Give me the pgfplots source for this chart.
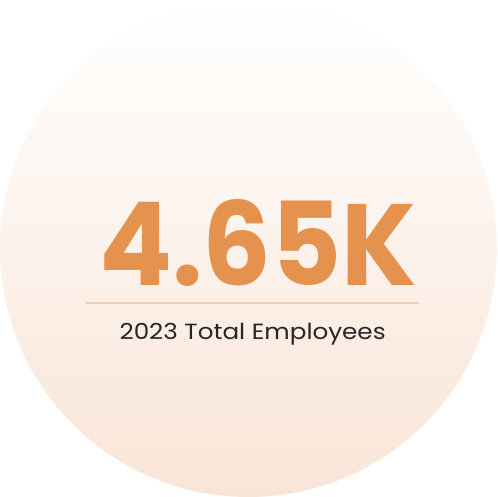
\documentclass[border=0pt]{standalone}
\usepackage{pgfplots}
\pgfplotsset{compat=1.18}
\usepackage{fontspec}
\setmainfont{Poppins}
\definecolor{kpi}{HTML}{E4924E}
\definecolor{rule}{HTML}{F1CCAC}
\definecolor{topc}{HTML}{FFFFFF}
\definecolor{botc}{HTML}{F9E5D7}
\definecolor{sub}{HTML}{262626}
\begin{document}
\begin{tikzpicture}
\begin{axis}[
  hide axis, scale only axis,
  width=497bp, height=491bp,
  xmin=0, xmax=497, ymin=0, ymax=491,
  clip=false,
]
\shade[top color=topc, bottom color=botc] (axis cs:248.5,245) circle [radius=242bp];
\addplot[draw=rule, line width=1.5bp] coordinates {(90,192) (415,192)};
\node[anchor=base, text=kpi, inner sep=0pt, xscale=0.935] at (axis cs:258,209)
  {\fontsize{113}{113}\selectfont\bfseries 4.65K};
\node[anchor=base, text=sub, inner sep=0pt, xscale=1.12] at (axis cs:252.5,156)
  {\fontsize{21.5}{21.5}\selectfont 2023 Total Employees};
\end{axis}
\end{tikzpicture}
\end{document}
